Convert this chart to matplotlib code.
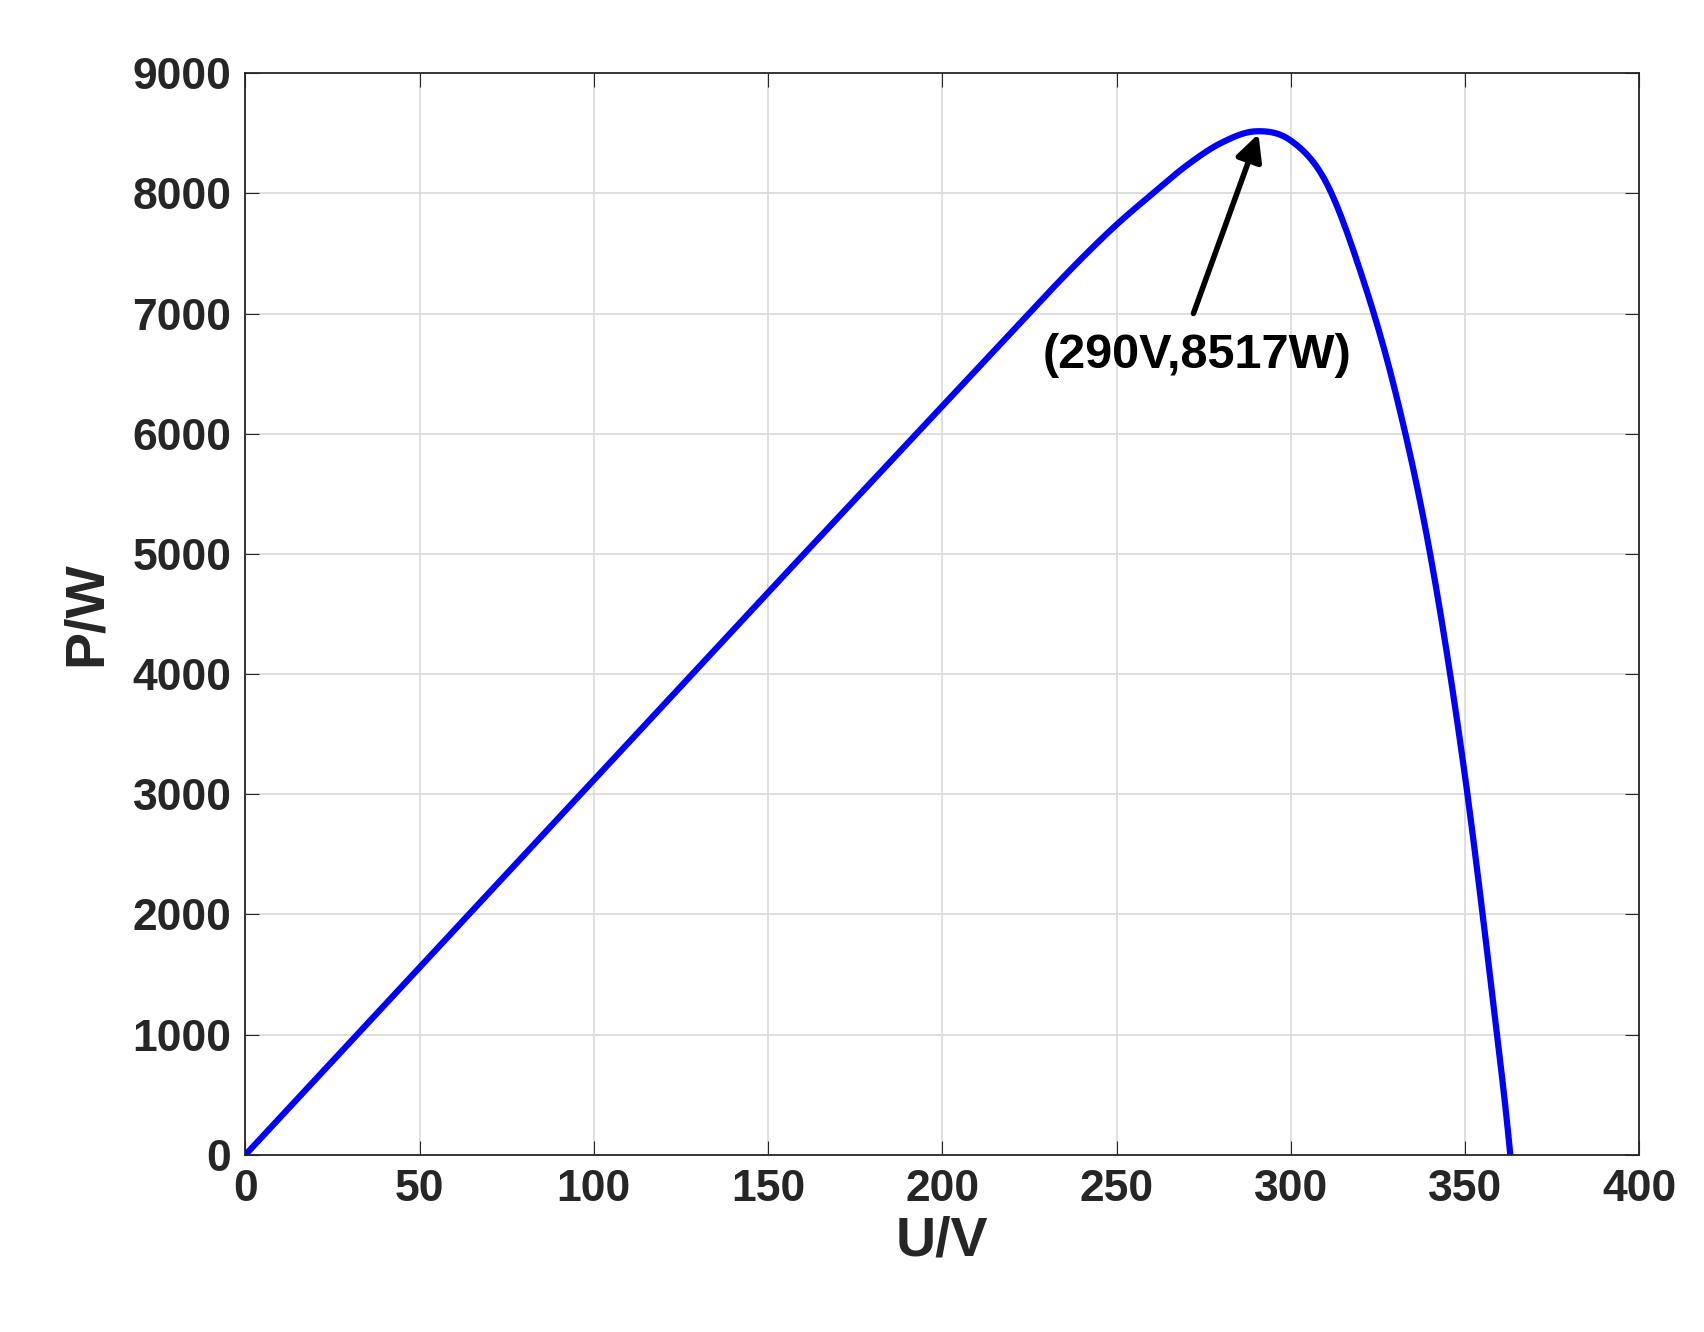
import matplotlib
matplotlib.use("Agg")
import matplotlib.pyplot as plt
import numpy as np

U = [0, 10, 20, 30, 40, 50, 60, 70, 80, 90, 100, 110, 120, 130, 140, 150, 160, 170, 180, 190,
     200, 210, 220, 230, 240, 250, 260, 270, 280, 290, 300, 310, 320, 330, 340, 350, 360, 363]
P = [0, 312, 624, 936, 1248, 1560, 1872, 2184, 2496, 2808, 3120, 3432, 3744, 4056, 4368, 4680,
     4990, 5300, 5610, 5920, 6230, 6540, 6850, 7160, 7460, 7740, 7990, 8230, 8420, 8517, 8440,
     8100, 7350, 6350, 5000, 3150, 800, 0]
xticks = [0, 50, 100, 150, 200, 250, 300, 350, 400]
yticks = [0, 1000, 2000, 3000, 4000, 5000, 6000, 7000, 8000, 9000]

plt.rcParams['font.family'] = ['Liberation Sans', 'DejaVu Sans']
plt.rcParams['font.weight'] = 'bold'
fig = plt.figure(figsize=(17.04, 13.32), dpi=100)
ax = fig.add_axes([0.144, 0.133, 0.818, 0.812])

Ua = np.array(U, float); Pa = np.array(P, float)
t = np.linspace(0, 1, 20)
xs, ys = [], []
n = len(Ua)
for i in range(n - 1):
    p0 = np.array([Ua[max(i-1, 0)], Pa[max(i-1, 0)]])
    p1 = np.array([Ua[i], Pa[i]]); p2 = np.array([Ua[i+1], Pa[i+1]])
    p3 = np.array([Ua[min(i+2, n-1)], Pa[min(i+2, n-1)]])
    for tt in t:
        pt = 0.5*((2*p1) + (-p0+p2)*tt + (2*p0-5*p1+4*p2-p3)*tt**2 + (-p0+3*p1-3*p2+p3)*tt**3)
        xs.append(pt[0]); ys.append(pt[1])
ax.plot(xs, ys, color='#0000ff', lw=4.5)

ax.set_xlim(0, 400); ax.set_ylim(0, 9000)
ax.set_xticks(xticks); ax.set_yticks(yticks)
ax.grid(True, color='#d9d9d9', lw=1.2)
ax.tick_params(direction='in', top=True, right=True, labelsize=32, length=10, pad=10, colors='#262626')
for s in ax.spines.values():
    s.set_color('#262626'); s.set_linewidth(1.3)
ax.set_xlabel('U/V', fontsize=40, fontweight='bold', color='#262626', labelpad=4)
ax.set_ylabel('P/W', fontsize=40, fontweight='bold', color='#262626', labelpad=14)
ax.annotate('', xy=(291, 8517), xytext=(271.8, 6980),
            arrowprops=dict(arrowstyle='-|>', color='black', lw=4, mutation_scale=40))
ax.text(273, 6650, '(290V,8517W)', fontsize=35, fontweight='bold', ha='center', va='center')
fig.savefig('out.png', dpi=100)
